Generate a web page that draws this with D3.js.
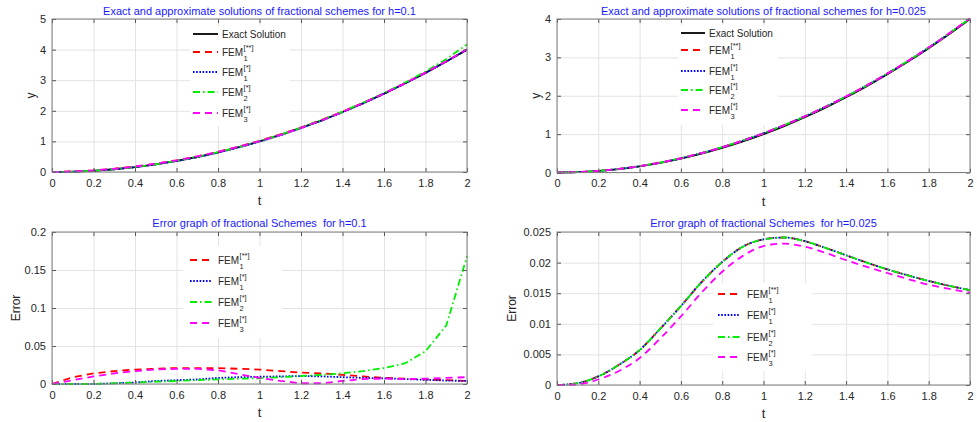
<!DOCTYPE html>
<html>
<head>
<meta charset="utf-8">
<script src="https://cdn.jsdelivr.net/npm/d3@7/dist/d3.min.js"></script>
<style>
  body { margin: 0; background: #fff; }
  svg { display: block; }
  text { font-family: "Liberation Sans", Arial, Helvetica, sans-serif; }
</style>
</head>
<body>
<svg id="chart" width="977" height="422"></svg>
<script>
// ---- data ----
const tValues = [0, 0.1, 0.2, 0.3, 0.4, 0.5, 0.6, 0.7, 0.8, 0.9, 1, 1.1, 1.2, 1.3, 1.4, 1.5, 1.6, 1.7, 1.8, 1.9, 2];
const xTicks = [0, 0.2, 0.4, 0.6, 0.8, 1, 1.2, 1.4, 1.6, 1.8, 2];
const yTicksSol1 = [0, 1, 2, 3, 4, 5];
const yTicksSol2 = [0, 1, 2, 3, 4];
const yTicksErr1 = [0, 0.05, 0.1, 0.15, 0.2];
const yTicksErr2 = [0, 0.005, 0.01, 0.015, 0.02, 0.025];

// solutions, h = 0.1
const exactSol = [0, 0.01, 0.04, 0.09, 0.16, 0.25, 0.36, 0.49, 0.64, 0.81, 1.00, 1.21, 1.44, 1.69, 1.96, 2.25, 2.56, 2.89, 3.24, 3.61, 4.00];
const fem1ssH1 = [0, 0.019, 0.054, 0.107, 0.179, 0.270, 0.381, 0.511, 0.661, 0.830, 1.019, 1.227, 1.455, 1.704, 1.972, 2.260, 2.568, 2.897, 3.246, 3.615, 4.004];
const fem1sH1  = [0, 0.010, 0.040, 0.089, 0.158, 0.246, 0.355, 0.484, 0.632, 0.801, 0.990, 1.200, 1.430, 1.680, 1.951, 2.242, 2.553, 2.884, 3.235, 3.606, 3.996];
const fem2H1   = [0, 0.010, 0.040, 0.091, 0.162, 0.253, 0.364, 0.495, 0.646, 0.817, 1.008, 1.219, 1.451, 1.702, 1.974, 2.267, 2.581, 2.917, 3.283, 3.687, 4.168];
const fem3H1   = [0, 0.015, 0.050, 0.104, 0.177, 0.269, 0.380, 0.510, 0.658, 0.824, 1.007, 1.214, 1.441, 1.691, 1.964, 2.257, 2.567, 2.897, 3.247, 3.618, 4.009];

// solutions, h = 0.025
const fem1ssH2 = [0, 0.010, 0.041, 0.093, 0.166, 0.259, 0.373, 0.507, 0.660, 0.833, 1.024, 1.234, 1.464, 1.712, 1.981, 2.270, 2.579, 2.908, 3.257, 3.626, 4.016];
const fem1sH2  = [0, 0.010, 0.041, 0.093, 0.166, 0.259, 0.373, 0.507, 0.660, 0.833, 1.024, 1.234, 1.464, 1.712, 1.981, 2.270, 2.579, 2.908, 3.257, 3.626, 4.016];
const fem2H2   = [0, 0.010, 0.041, 0.093, 0.166, 0.259, 0.373, 0.507, 0.660, 0.833, 1.024, 1.234, 1.464, 1.712, 1.981, 2.270, 2.579, 2.908, 3.257, 3.626, 4.016];
const fem3H2   = [0, 0.010, 0.041, 0.092, 0.164, 0.258, 0.371, 0.505, 0.659, 0.831, 1.023, 1.233, 1.463, 1.712, 1.980, 2.269, 2.578, 2.907, 3.256, 3.626, 4.015];

// errors, h = 0.1
const err1ssH1 = [0, 0.009, 0.014, 0.017, 0.019, 0.020, 0.021, 0.021, 0.021, 0.020, 0.019, 0.017, 0.015, 0.014, 0.012, 0.010, 0.008, 0.007, 0.006, 0.005, 0.004];
const err1sH1  = [0, 0.000, 0.000, 0.001, 0.002, 0.004, 0.005, 0.006, 0.008, 0.009, 0.0095, 0.010, 0.0105, 0.010, 0.009, 0.008, 0.0075, 0.0065, 0.0055, 0.0045, 0.004];
const err2H1   = [0, 0.000, 0.000, 0.001, 0.002, 0.003, 0.004, 0.005, 0.006, 0.007, 0.0075, 0.009, 0.0105, 0.012, 0.014, 0.017, 0.021, 0.027, 0.043, 0.077, 0.168];
const err3H1   = [0, 0.005, 0.010, 0.014, 0.017, 0.019, 0.020, 0.020, 0.018, 0.013, 0.008, 0.004, 0.001, 0.001, 0.004, 0.0065, 0.007, 0.0065, 0.007, 0.008, 0.009];

// errors, h = 0.025
const err1ssH2 = [0, 0.0003, 0.0014, 0.0033, 0.0057, 0.0092, 0.0129, 0.0168, 0.0201, 0.0226, 0.0238, 0.0241, 0.0235, 0.0224, 0.0212, 0.0200, 0.0189, 0.0179, 0.0170, 0.0162, 0.0155];
const err1sH2  = [0, 0.0003, 0.0014, 0.0033, 0.0057, 0.0092, 0.0129, 0.0168, 0.0201, 0.0226, 0.0238, 0.0241, 0.0235, 0.0224, 0.0212, 0.0200, 0.0189, 0.0179, 0.0170, 0.0162, 0.0155];
const err2H2   = [0, 0.0003, 0.0014, 0.0033, 0.0057, 0.0092, 0.0129, 0.0168, 0.0201, 0.0226, 0.0238, 0.0241, 0.0235, 0.0224, 0.0212, 0.0200, 0.0189, 0.0179, 0.0170, 0.0162, 0.0155];
const err3H2   = [0, 0.0001, 0.0009, 0.0023, 0.0044, 0.0076, 0.0112, 0.0151, 0.0185, 0.0211, 0.0227, 0.0231, 0.0226, 0.0216, 0.0204, 0.0193, 0.0183, 0.0173, 0.0164, 0.0157, 0.0151];

// ---- line styles (MATLAB-like) ----
const styles = {
  exact: { color: "#000000", dash: null,            label: ["Exact Solution"] },
  f1ss:  { color: "#ff0000", dash: "7,5",           label: ["FEM", "1", "[**]"] },
  f1s:   { color: "#0000ff", dash: "1.6,1.6",       label: ["FEM", "1", "[*]"] },
  f2:    { color: "#00ee00", dash: "7,3,1.6,3",     label: ["FEM", "2", "[*]"] },
  f3:    { color: "#ff00ff", dash: "7,5",           label: ["FEM", "3", "[*]"] }
};

const panels = [
  { x0: 52, x1: 467, y0: 19, y1: 172, yMax: 5, yTicks: yTicksSol1, ylabel: "y", ylabelX: 35,
    title: "Exact and approximate solutions of fractional schemes for h=0.1", titleY: 15,
    curve: d3.curveLinear,
    series: [["exact", exactSol], ["f1ss", fem1ssH1], ["f1s", fem1sH1], ["f2", fem2H1], ["f3", fem3H1]],
    legend: { bx: 190, by: 26, bw: 100, bh: 100, sx: 193, sw: 25, tx: 222, rows: [34, 52, 72, 92, 113] } },
  { x0: 557, x1: 970, y0: 19, y1: 172.5, yMax: 4, yTicks: yTicksSol2, ylabel: "y", ylabelX: 540,
    title: "Exact and approximate solutions of fractional schemes for h=0.025", titleY: 15,
    curve: d3.curveMonotoneX,
    series: [["exact", exactSol], ["f1ss", fem1ssH2], ["f1s", fem1sH2], ["f2", fem2H2], ["f3", fem3H2]],
    legend: { bx: 678, by: 25, bw: 100, bh: 100, sx: 681, sw: 24, tx: 709, rows: [33, 50, 71, 90, 110] } },
  { x0: 52, x1: 467, y0: 232, y1: 384, yMax: 0.2, yTicks: yTicksErr1, ylabel: "Error", ylabelX: 20,
    title: "Error graph of fractional Schemes  for h=0.1", titleY: 227,
    curve: d3.curveLinear,
    series: [["f1ss", err1ssH1], ["f1s", err1sH1], ["f2", err2H1], ["f3", err3H1]],
    legend: { bx: 183, by: 246, bw: 99, bh: 92, sx: 190, sw: 22, tx: 218, rows: [260, 281, 302, 323] } },
  { x0: 557, x1: 970, y0: 232, y1: 385, yMax: 0.025, yTicks: yTicksErr2, ylabel: "Error", ylabelX: 516,
    title: "Error graph of fractional Schemes  for h=0.025", titleY: 227,
    curve: d3.curveMonotoneX,
    series: [["f1ss", err1ssH2], ["f1s", err1sH2], ["f2", err2H2], ["f3", err3H2]],
    legend: { bx: 713, by: 283, bw: 99, bh: 88, sx: 718, sw: 22, tx: 747, rows: [294, 315, 337, 357] } }
];

const svg = d3.select("#chart");
const fmt = d3.format("~g");

panels.forEach(function(p) {
  const g = svg.append("g");
  const x = d3.scaleLinear().domain([0, 2]).range([p.x0, p.x1]);
  const y = d3.scaleLinear().domain([0, p.yMax]).range([p.y1, p.y0]);

  // grid lines
  g.append("g").attr("transform", "translate(0," + p.y1 + ")")
    .call(d3.axisBottom(x).tickValues(xTicks).tickSize(-(p.y1 - p.y0)).tickFormat(""))
    .call(a => a.select(".domain").remove())
    .selectAll("line").attr("stroke", "#e3e3e3").attr("stroke-width", 1);
  g.append("g").attr("transform", "translate(" + p.x0 + ",0)")
    .call(d3.axisLeft(y).tickValues(p.yTicks).tickSize(-(p.x1 - p.x0)).tickFormat(""))
    .call(a => a.select(".domain").remove())
    .selectAll("line").attr("stroke", "#e3e3e3").attr("stroke-width", 1);

  // curves
  const line = d3.line().x((d, i) => x(tValues[i])).y(d => y(d)).curve(p.curve);
  p.series.forEach(function(s) {
    const st = styles[s[0]];
    g.append("path").datum(s[1])
      .attr("d", line)
      .attr("fill", "none")
      .attr("stroke", st.color)
      .attr("stroke-width", 1.8)
      .attr("stroke-dasharray", st.dash);
  });

  // axes with inward ticks on all four sides
  const tickCol = "#555";
  const bottom = g.append("g").attr("transform", "translate(0," + p.y1 + ")")
    .call(d3.axisBottom(x).tickValues(xTicks).tickSizeInner(-4).tickSizeOuter(0).tickPadding(7).tickFormat(fmt));
  const left = g.append("g").attr("transform", "translate(" + p.x0 + ",0)")
    .call(d3.axisLeft(y).tickValues(p.yTicks).tickSizeInner(-4).tickSizeOuter(0).tickPadding(6).tickFormat(fmt));
  const top = g.append("g").attr("transform", "translate(0," + p.y0 + ")")
    .call(d3.axisTop(x).tickValues(xTicks).tickSizeInner(-4).tickSizeOuter(0).tickFormat(""));
  const right = g.append("g").attr("transform", "translate(" + p.x1 + ",0)")
    .call(d3.axisRight(y).tickValues(p.yTicks).tickSizeInner(-4).tickSizeOuter(0).tickFormat(""));
  [bottom, left, top, right].forEach(function(a) {
    a.select(".domain").remove();
    a.selectAll("line").attr("stroke", tickCol);
    a.selectAll("text").attr("fill", "#262626").style("font-size", "11px")
      .style("font-family", "'Liberation Sans', Arial, sans-serif");
  });

  // box
  g.append("rect")
    .attr("x", p.x0).attr("y", p.y0)
    .attr("width", p.x1 - p.x0).attr("height", p.y1 - p.y0)
    .attr("fill", "none").attr("stroke", "#7f7f7f").attr("stroke-width", 1);

  // title
  g.append("text")
    .attr("x", (p.x0 + p.x1) / 2).attr("y", p.titleY)
    .attr("text-anchor", "middle")
    .attr("fill", "#1a1aff")
    .style("font-size", "11px")
    .style("white-space", "pre")
    .text(p.title);

  // axis labels
  g.append("text")
    .attr("x", (p.x0 + p.x1) / 2).attr("y", p.y1 + 33)
    .attr("text-anchor", "middle").attr("fill", "#262626")
    .style("font-size", "13px")
    .text("t");
  g.append("text")
    .attr("transform", "translate(" + p.ylabelX + "," + ((p.y0 + p.y1) / 2) + ") rotate(-90)")
    .attr("text-anchor", "middle").attr("fill", "#262626")
    .style("font-size", "12px")
    .text(p.ylabel);

  // legend
  const L = p.legend;
  const lg = g.append("g");
  lg.append("rect").attr("x", L.bx).attr("y", L.by).attr("width", L.bw).attr("height", L.bh)
    .attr("fill", "#fff");
  p.series.forEach(function(s, i) {
    const st = styles[s[0]];
    const ry = L.rows[i];
    lg.append("line")
      .attr("x1", L.sx).attr("x2", L.sx + L.sw).attr("y1", ry).attr("y2", ry)
      .attr("stroke", st.color).attr("stroke-width", 1.8)
      .attr("stroke-dasharray", st.dash);
    const main = lg.append("text")
      .attr("x", L.tx).attr("y", ry + 4)
      .attr("fill", "#262626").style("font-size", "10px")
      .text(st.label[0]);
    if (st.label.length > 1) {
      const w = main.node().getComputedTextLength();
      lg.append("text").attr("x", L.tx + w + 0.5).attr("y", ry + 9)
        .attr("fill", "#262626").style("font-size", "7.5px").text(st.label[1]);
      lg.append("text").attr("x", L.tx + w + 0.5).attr("y", ry - 2)
        .attr("fill", "#262626").style("font-size", "7.5px").text(st.label[2]);
    }
  });
});
</script>
</body>
</html>
